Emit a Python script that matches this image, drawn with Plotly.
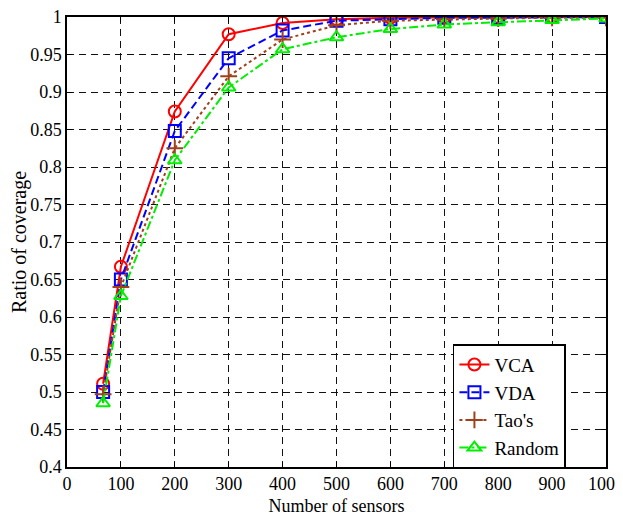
import plotly.graph_objects as go

x_vals = [67, 100, 200, 300, 400, 500, 600, 700, 800, 900, 1000]
vca = [0.511, 0.667, 0.874, 0.977, 0.992, 0.997, 0.999, 1.0, 1.0, 1.0, 1.0]
vda = [0.500, 0.650, 0.848, 0.945, 0.982, 0.995, 0.997, 0.999, 0.999, 1.0, 1.0]
taos = [0.497, 0.640, 0.825, 0.921, 0.970, 0.989, 0.995, 0.997, 0.998, 0.999, 0.999]
rand = [0.485, 0.628, 0.809, 0.906, 0.957, 0.973, 0.984, 0.990, 0.993, 0.996, 0.998]

series = [
    ("VCA", vca, "#FF0000", "solid", "circle-open"),
    ("VDA", vda, "#0000FF", "8px,4px", "square-open"),
    ("Tao's", taos, "#A0401A", "dot", "cross-thin-open"),
    ("Random", rand, "#00EE00", "dashdot", "triangle-up-open"),
]

fig = go.Figure()
for name, ys, col, dash, sym in series:
    fig.add_trace(go.Scatter(
        x=x_vals, y=ys, name=name, mode="lines+markers",
        line=dict(color=col, width=2, dash=dash),
        marker=dict(symbol=sym, size=12, color=col, line=dict(color=col, width=2)),
    ))

font = "Liberation Serif"
axis_common = dict(
    showline=True, linecolor="black", linewidth=1.5, mirror="ticks",
    ticks="inside", ticklen=5, tickcolor="black",
    showgrid=True, gridcolor="#111111", griddash="7px,5px", gridwidth=1,
    zeroline=False, automargin=False, ticklabeloverflow="allow",
    tickfont=dict(family=font, size=18, color="black"),
)

fig.update_layout(
    width=623, height=516,
    margin=dict(l=59, r=25, t=9, b=57),
    paper_bgcolor="white", plot_bgcolor="white",
    xaxis=dict(range=[0, 1000], dtick=100, tick0=0,
               title=dict(text="Number of sensors", font=dict(family=font, size=18, color="black"), standoff=6),
               **axis_common),
    yaxis=dict(range=[0.4, 1.0], dtick=0.05, tick0=0.4,
               title=dict(text="Ratio of coverage", font=dict(family=font, size=20, color="black"), standoff=12),
               **axis_common),
    legend=dict(x=0.716, y=0.273, xanchor="left", yanchor="top",
                bgcolor="white", bordercolor="black", borderwidth=1.5,
                font=dict(family=font, size=19, color="black"),
                tracegroupgap=0, itemwidth=30),
)

fig.write_html("out.html")
